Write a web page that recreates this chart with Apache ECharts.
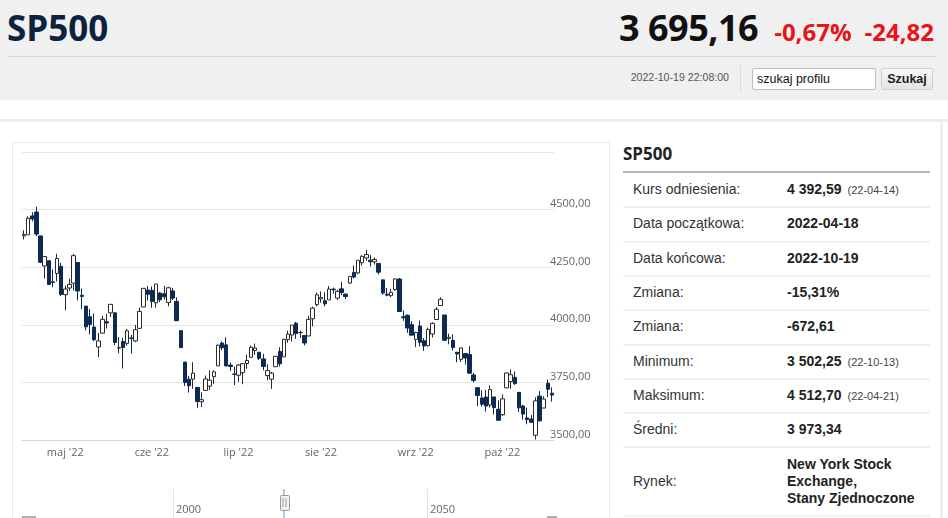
<!DOCTYPE html>
<html>
<head>
<meta charset="utf-8">
<script src="https://cdn.jsdelivr.net/npm/echarts@6/dist/echarts.min.js"></script>
<style>
  body { margin: 0; width: 948px; height: 518px; overflow: hidden; background: #fff; position: relative; font-family: 'Liberation Sans', Arial, sans-serif; }
  .abs { position: absolute; }
  #head { left: 0; top: 0; width: 948px; height: 100px; background: #f0f0f0; }
  #name { left: 7px; top: 4px; font: bold 35px 'Open Sans', sans-serif; color: #0c2340; }
  #price { right: 14px; top: 3px; font-family: 'Open Sans', sans-serif; font-weight: bold; white-space: nowrap; }
  #price .last { font-size: 36px; color: #111; letter-spacing: -0.5px; }
  #price .chg { font-size: 24px; color: #e8131b; margin-left: 13px; }
  #price .chg.first { margin-left: 16px; }
  #hline { left: 7px; top: 56px; width: 929px; height: 1px; background: #d4d4d4; }
  #stamp { right: 219px; top: 71px; font-size: 10.6px; color: #555; }
  #vdiv { left: 740px; top: 65px; width: 1px; height: 28px; background: #dcdcdc; }
  #search { left: 752px; top: 68px; width: 118px; height: 20px; border: 1px solid #bdbdbd; border-radius: 2px; background: #fff; font-size: 12.5px; line-height: 20px; padding-left: 4px; color: #111; }
  #btn { left: 881px; top: 68px; width: 50px; height: 20px; border: 1px solid #cfcfcf; border-radius: 2px; background: linear-gradient(#f7f7f7, #e4e4e4); font-size: 12.5px; font-weight: bold; line-height: 20px; text-align: center; color: #222; }
  #band { left: 0; top: 119px; width: 948px; height: 3px; background: #ececec; }
  #rstrip { left: 940px; top: 122px; width: 3px; height: 396px; background: #efefef; }
  #box { left: 12px; top: 142px; width: 596px; height: 380px; border: 1px solid #ebebeb; }
  #chart { left: 13px; top: 143px; width: 596px; height: 375px; }
  #ptitle { left: 623px; top: 142px; font: bold 17px 'Open Sans', sans-serif; color: #222; }
  #pline { left: 623px; top: 171px; width: 307px; height: 2px; background: #b8b8b8; }
  .sep { left: 623px; width: 307px; height: 2px; background: #f1f1f1; }
  .lab { left: 633px; font-size: 14px; color: #333; }
  .val { left: 787px; font-size: 14px; font-weight: bold; color: #222; white-space: nowrap; }
  .val small { font-size: 11px; font-weight: normal; color: #444; margin-left: 6px; }
</style>
</head>
<body>
<div id="head" class="abs"></div>
<div id="name" class="abs">SP500</div>
<div id="price" class="abs"><span class="last">3 695,16</span><span class="chg first">-0,67%</span><span class="chg">-24,82</span></div>
<div id="hline" class="abs"></div>
<div id="stamp" class="abs">2022-10-19 22:08:00</div>
<div id="vdiv" class="abs"></div>
<div id="search" class="abs">szukaj profilu</div>
<div id="btn" class="abs">Szukaj</div>
<div id="band" class="abs"></div>
<div id="rstrip" class="abs"></div>
<div id="box" class="abs"></div>
<div id="chart" class="abs"></div>

<div id="ptitle" class="abs">SP500</div>
<div id="pline" class="abs"></div>
<div id="table"></div>

<script>
// notowania dzienne SP500, 2022-04-18 .. 2022-10-19
const dates = [
  '2022-04-18','2022-04-19','2022-04-20','2022-04-21','2022-04-22','2022-04-25','2022-04-26','2022-04-27','2022-04-28','2022-04-29',
  '2022-05-02','2022-05-03','2022-05-04','2022-05-05','2022-05-06','2022-05-09','2022-05-10','2022-05-11','2022-05-12','2022-05-13',
  '2022-05-16','2022-05-17','2022-05-18','2022-05-19','2022-05-20','2022-05-23','2022-05-24','2022-05-25','2022-05-26','2022-05-27','2022-05-31',
  '2022-06-01','2022-06-02','2022-06-03','2022-06-06','2022-06-07','2022-06-08','2022-06-09','2022-06-10','2022-06-13','2022-06-14',
  '2022-06-15','2022-06-16','2022-06-17','2022-06-21','2022-06-22','2022-06-23','2022-06-24','2022-06-27','2022-06-28','2022-06-29','2022-06-30',
  '2022-07-01','2022-07-05','2022-07-06','2022-07-07','2022-07-08','2022-07-11','2022-07-12','2022-07-13','2022-07-14','2022-07-15',
  '2022-07-18','2022-07-19','2022-07-20','2022-07-21','2022-07-22','2022-07-25','2022-07-26','2022-07-27','2022-07-28','2022-07-29',
  '2022-08-01','2022-08-02','2022-08-03','2022-08-04','2022-08-05','2022-08-08','2022-08-09','2022-08-10','2022-08-11','2022-08-12',
  '2022-08-15','2022-08-16','2022-08-17','2022-08-18','2022-08-19','2022-08-22','2022-08-23','2022-08-24','2022-08-25','2022-08-26',
  '2022-08-29','2022-08-30','2022-08-31',
  '2022-09-01','2022-09-02','2022-09-06','2022-09-07','2022-09-08','2022-09-09','2022-09-12','2022-09-13','2022-09-14','2022-09-15',
  '2022-09-16','2022-09-19','2022-09-20','2022-09-21','2022-09-22','2022-09-23','2022-09-26','2022-09-27','2022-09-28','2022-09-29','2022-09-30',
  '2022-10-03','2022-10-04','2022-10-05','2022-10-06','2022-10-07','2022-10-10','2022-10-11','2022-10-12','2022-10-13','2022-10-14',
  '2022-10-17','2022-10-18','2022-10-19'
];

const openP = [
  4385.63, 4390.63, 4472.26, 4489.17, 4385.83, 4255.34, 4278.14, 4186.52, 4222.58, 4253.75,
  4130.61, 4159.78, 4181.18, 4270.43, 4128.17, 4081.27, 4035.18, 3990.08, 3903.95, 3963.90,
  4013.02, 4052.00, 4051.98, 3899.00, 3927.76, 3919.42, 3942.94, 3929.59, 3984.60, 4077.43, 4151.09,
  4149.78, 4095.41, 4137.57, 4134.72, 4096.47, 4147.12, 4101.65, 3974.39, 3838.15, 3763.52,
  3764.05, 3728.18, 3665.90, 3715.31, 3733.89, 3774.71, 3821.75, 3920.76, 3913.00, 3825.09, 3785.99,
  3781.00, 3792.61, 3831.98, 3858.85, 3888.26, 3880.94, 3851.95, 3779.67, 3763.99, 3818.00,
  3883.79, 3860.73, 3935.32, 3955.47, 4007.17, 3965.72, 3953.22, 3951.43, 4026.13, 4087.33,
  4112.38, 4104.21, 4107.96, 4154.85, 4115.87, 4155.93, 4133.11, 4181.02, 4227.40, 4225.02,
  4269.37, 4290.46, 4280.40, 4273.13, 4266.31, 4195.08, 4133.09, 4126.55, 4153.26, 4198.74,
  4034.58, 4041.25, 4000.67,
  3936.73, 3994.66, 3930.89, 3909.43, 3959.94, 4022.94, 4083.67, 4042.56, 3940.73, 3932.41,
  3880.95, 3849.91, 3875.23, 3871.40, 3782.36, 3727.14, 3682.72, 3686.44, 3651.94, 3687.01, 3633.48,
  3609.78, 3726.46, 3753.25, 3771.97, 3706.74, 3647.51, 3595.86, 3590.83, 3520.37, 3690.41,
  3638.65, 3746.26, 3703.11
];

const closeP = [
  4391.69, 4462.21, 4459.45, 4393.66, 4271.78, 4296.12, 4175.20, 4183.96, 4287.50, 4131.93,
  4155.38, 4175.48, 4300.17, 4146.87, 4123.34, 3991.24, 4001.05, 3935.18, 3930.08, 4023.89,
  4008.01, 4088.85, 3923.68, 3900.79, 3901.36, 3973.75, 3941.48, 3978.73, 4057.84, 4158.24, 4132.15,
  4101.23, 4176.82, 4108.54, 4121.43, 4160.68, 4115.77, 4017.82, 3900.86, 3749.63, 3735.48,
  3789.99, 3666.77, 3674.84, 3764.79, 3759.89, 3795.73, 3911.74, 3900.11, 3821.55, 3818.83, 3785.38,
  3825.33, 3831.39, 3845.08, 3902.62, 3899.38, 3854.43, 3818.80, 3801.78, 3790.38, 3863.16,
  3830.85, 3936.69, 3959.90, 3998.95, 3961.63, 3966.84, 3921.05, 4023.61, 4072.43, 4130.29,
  4118.63, 4091.19, 4155.17, 4151.94, 4145.19, 4140.06, 4122.47, 4210.24, 4207.27, 4280.15,
  4297.14, 4305.20, 4274.04, 4283.74, 4228.48, 4137.99, 4128.73, 4140.77, 4199.12, 4057.66,
  4030.61, 3986.16, 3955.00,
  3966.85, 3924.26, 3908.19, 3979.87, 4006.18, 4067.36, 4110.41, 3932.69, 3946.01, 3901.35,
  3873.33, 3899.89, 3855.93, 3789.93, 3757.99, 3693.23, 3655.04, 3647.29, 3719.04, 3640.47, 3585.62,
  3678.43, 3790.93, 3783.28, 3744.52, 3639.66, 3612.39, 3588.84, 3577.03, 3669.91, 3583.07,
  3677.95, 3719.98, 3695.16
];

const lowP = [
  4370.30, 4390.63, 4448.76, 4384.47, 4267.62, 4200.82, 4175.04, 4162.90, 4188.63, 4124.28,
  4062.51, 4147.08, 4148.91, 4106.01, 4067.91, 3975.48, 3958.17, 3928.82, 3858.87, 3963.90,
  3983.99, 4033.93, 3911.91, 3876.58, 3810.32, 3909.04, 3875.13, 3925.03, 3984.60, 4077.43, 4104.88,
  4073.85, 4074.37, 4098.67, 4109.18, 4080.19, 4107.20, 4017.17, 3900.16, 3734.30, 3705.68,
  3722.30, 3639.77, 3643.41, 3715.31, 3717.69, 3743.52, 3821.75, 3889.66, 3820.14, 3799.02, 3738.67,
  3752.10, 3742.06, 3809.37, 3858.85, 3869.34, 3847.22, 3802.36, 3759.07, 3721.56, 3817.18,
  3818.63, 3860.73, 3922.03, 3927.64, 3938.85, 3943.46, 3910.74, 3951.43, 3992.97, 4079.22,
  4096.02, 4079.81, 4107.96, 4135.42, 4107.31, 4128.97, 4112.09, 4177.26, 4201.41, 4219.78,
  4256.90, 4277.77, 4253.08, 4261.98, 4218.70, 4129.86, 4124.03, 4119.97, 4147.59, 4057.66,
  4017.42, 3965.21, 3954.53,
  3903.65, 3906.21, 3886.75, 3906.03, 3944.81, 4022.94, 4083.67, 3930.62, 3915.70, 3888.28,
  3837.08, 3838.50, 3827.54, 3789.49, 3749.45, 3647.47, 3644.76, 3623.29, 3640.61, 3610.40, 3584.13,
  3604.93, 3726.46, 3722.66, 3739.22, 3620.73, 3588.10, 3568.45, 3573.86, 3502.25, 3579.68,
  3638.65, 3686.53, 3666.51
];

const highP = [
  4410.31, 4471.03, 4488.29, 4512.70, 4385.83, 4299.02, 4278.14, 4240.71, 4308.45, 4269.68,
  4169.81, 4200.10, 4307.66, 4270.43, 4157.69, 4081.27, 4068.82, 4049.09, 3964.80, 4038.88,
  4046.46, 4090.72, 4051.98, 3945.96, 3943.42, 3981.88, 3955.68, 3999.33, 4075.14, 4158.49, 4168.34,
  4166.54, 4177.51, 4142.67, 4168.78, 4164.86, 4160.14, 4119.10, 3974.39, 3838.15, 3778.18,
  3837.56, 3728.18, 3707.71, 3779.65, 3801.79, 3802.58, 3913.65, 3927.72, 3945.86, 3836.50, 3818.99,
  3829.82, 3832.19, 3870.91, 3910.63, 3918.50, 3880.94, 3873.41, 3829.44, 3796.41, 3863.62,
  3902.44, 3939.81, 3974.13, 3999.29, 4012.44, 3975.30, 3953.22, 4039.56, 4078.95, 4140.15,
  4144.95, 4140.47, 4167.66, 4161.29, 4151.58, 4186.62, 4137.30, 4211.03, 4257.91, 4280.47,
  4301.79, 4325.28, 4302.18, 4292.53, 4266.31, 4195.08, 4159.77, 4156.56, 4200.54, 4203.04,
  4062.99, 4044.98, 4015.37,
  3970.23, 4018.43, 3942.55, 3987.89, 4010.50, 4076.81, 4119.28, 4042.56, 3961.94, 3959.14,
  3880.95, 3900.45, 3876.01, 3907.07, 3790.68, 3727.14, 3715.67, 3717.53, 3736.74, 3687.01, 3671.44,
  3698.35, 3791.92, 3806.91, 3797.93, 3706.74, 3652.17, 3640.66, 3608.34, 3685.41, 3712.00,
  3689.73, 3762.79, 3728.58
];

const monthsPL = ['sty', 'lut', 'mar', 'kwi', 'maj', 'cze', 'lip', 'sie', 'wrz', 'paź', 'lis', 'gru'];
const navTicks = [2000, 2050];

// tabela po prawej
const rows = [
  ['Kurs odniesienia:', '4 392,59', '(22-04-14)'],
  ['Data początkowa:', '2022-04-18', ''],
  ['Data końcowa:', '2022-10-19', ''],
  ['Zmiana:', '-15,31%', ''],
  ['Zmiana:', '-672,61', ''],
  ['Minimum:', '3 502,25', '(22-10-13)'],
  ['Maksimum:', '4 512,70', '(22-04-21)'],
  ['Średni:', '3 973,34', ''],
  ['Rynek:', 'New York Stock<br>Exchange,<br>Stany Zjednoczone', '']
];

let html = '';
let y = 173;
rows.forEach((r, i) => {
  const h = i === rows.length - 1 ? 69 : 34.3;
  const mid = y + h / 2;
  html += `<div class="abs lab" style="top:${mid - 9}px">${r[0]}</div>`;
  if (i === rows.length - 1) {
    html += `<div class="abs val" style="top:${mid - 26}px;line-height:17px">${r[1]}</div>`;
  } else {
    html += `<div class="abs val" style="top:${mid - 9}px">${r[1]}${r[2] ? '<small>' + r[2] + '</small>' : ''}</div>`;
  }
  y += h;
  html += `<div class="abs sep" style="top:${y - 1}px"></div>`;
});
document.getElementById('table').innerHTML = html;

const isMonthStart = (i) => i > 0 && dates[i].slice(5, 7) !== dates[i - 1].slice(5, 7);

const chart = echarts.init(document.getElementById('chart'));

const option = {
  animation: false,
  grid: [
    { left: 9, right: 55, top: 9, height: 288 },
    { left: 9, right: 55, top: 346, height: 40 }
  ],
  xAxis: [
    {
      type: 'category',
      data: dates,
      gridIndex: 0,
      boundaryGap: true,
      axisLine: { lineStyle: { color: '#ccd6eb' } },
      axisTick: { alignWithLabel: true, interval: (i) => isMonthStart(i), length: 10, lineStyle: { color: '#ccd6eb' } },
      axisLabel: {
        interval: (i) => isMonthStart(i),
        margin: 7,
        color: '#666',
        fontSize: 11,
        fontFamily: 'Open Sans',
        formatter: (v) => monthsPL[parseInt(v.slice(5, 7), 10) - 1] + " '" + v.slice(2, 4)
      },
      splitLine: { show: false }
    },
    {
      type: 'value',
      gridIndex: 1,
      position: 'top',
      min: 1970.3,
      max: 2075,
      axisLine: { show: true, lineStyle: { color: '#9a9a9a' } },
      axisTick: { show: false },
      axisLabel: {
        show: true, inside: true, customValues: navTicks, margin: 15, align: 'left',
        padding: [0, 0, 0, 3], color: '#666', fontSize: 11, fontFamily: 'Open Sans',
        formatter: (v) => String(v)
      },
      splitLine: { show: false }
    }
  ],
  yAxis: [
    {
      type: 'value',
      gridIndex: 0,
      position: 'right',
      min: 3500,
      max: 4750,
      interval: 250,
      axisLine: { show: false },
      axisTick: { show: false },
      splitLine: { lineStyle: { color: '#e6e6e6' } },
      axisLabel: {
        showMaxLabel: false,
        margin: -4,
        verticalAlign: 'bottom',
        color: '#666',
        fontSize: 11,
        fontFamily: 'Open Sans',
        formatter: (v) => v.toFixed(2).replace('.', ',')
      }
    },
    {
      type: 'value', gridIndex: 1, min: 0, max: 1,
      axisLine: { show: false }, axisTick: { show: false }, axisLabel: { show: false }, splitLine: { show: false }
    }
  ],
  series: [
    {
      name: 'SP500',
      type: 'candlestick',
      xAxisIndex: 0,
      yAxisIndex: 0,
      barWidth: 4,
      data: dates.map((d, i) => [openP[i], closeP[i], lowP[i], highP[i]]),
      itemStyle: {
        color: '#ffffff',
        color0: '#0d2a52',
        borderColor: '#2a2a2a',
        borderColor0: '#0d2a52',
        borderWidth: 1
      }
    },
    {
      // linie podziału nawigatora
      name: 'nav',
      type: 'line',
      xAxisIndex: 1,
      yAxisIndex: 1,
      data: [],
      silent: true,
      markLine: {
        symbol: 'none',
        silent: true,
        label: { show: false },
        lineStyle: { color: '#e3e3e3', type: 'solid', width: 1 },
        data: navTicks.map((v) => ({ xAxis: v }))
      }
    }
  ],
  graphic: [
    { type: 'rect', left: 270, top: 346, shape: { width: 2, height: 30 }, style: { fill: '#b6cbe4' }, silent: true },
    { type: 'rect', left: 267, top: 352, shape: { width: 9, height: 15, r: 1 }, style: { fill: '#f2f2f2', stroke: '#999', lineWidth: 1 }, silent: true },
    { type: 'line', shape: { x1: 270, y1: 355, x2: 270, y2: 364 }, style: { stroke: '#999', lineWidth: 1 }, silent: true },
    { type: 'line', shape: { x1: 273, y1: 355, x2: 273, y2: 364 }, style: { stroke: '#999', lineWidth: 1 }, silent: true },
    { type: 'rect', left: 9, top: 373, shape: { width: 14, height: 2 }, style: { fill: '#b0b0b0' }, silent: true },
    { type: 'rect', left: 534, top: 373, shape: { width: 10, height: 2 }, style: { fill: '#b0b0b0' }, silent: true }
  ]
};

chart.setOption(option);
</script>
</body>
</html>
